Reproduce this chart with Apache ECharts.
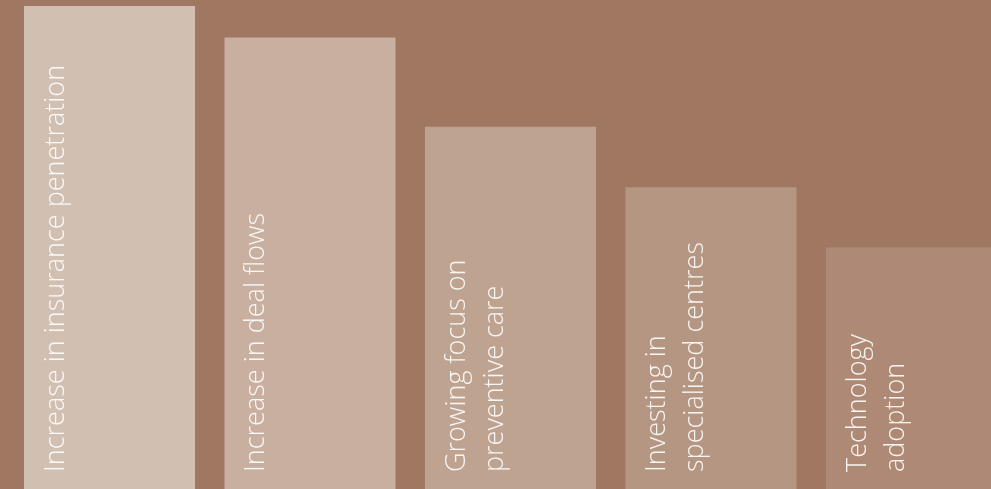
<!DOCTYPE html>
<html>
<head>
<meta charset="utf-8">
<script src="https://cdn.jsdelivr.net/npm/echarts@6/dist/echarts.min.js"></script>
<style>
html,body{margin:0;padding:0;background:#A07760;}
#chart{width:991px;height:489px;}
</style>
</head>
<body>
<div id="chart"></div>
<script>
const categories = [
  "Increase in insurance penetration",
  "Increase in deal flows",
  "Growing focus on\npreventive care",
  "Investing in\nspecialised centres",
  "Technology\nadoption"
];
const values = [100, 93.5, 75, 62.5, 50];
const barColors = ["#D1BFB2", "#C9AFA0", "#BFA391", "#B59682", "#AE8A76"];

const chart = echarts.init(document.getElementById('chart'));
chart.setOption({
  backgroundColor: '#A07760',
  animation: false,
  grid: { left: 9.25, width: 1002.5, top: 6, bottom: 0, containLabel: false, outerBoundsMode: 'none' },
  xAxis: {
    type: 'category', data: categories,
    axisLine: { show: false }, axisTick: { show: false }, axisLabel: { show: false }
  },
  yAxis: {
    type: 'value', min: 0, max: 100,
    show: false, splitLine: { show: false }
  },
  series: [{
    type: 'bar',
    barWidth: 171,
    data: values.map((v, i) => ({ value: v, itemStyle: { color: barColors[i] } })),
    label: {
      show: true,
      formatter: (p) => categories[p.dataIndex],
      position: [0, '100%'],
      rotate: 90,
      align: 'left',
      verticalAlign: 'top',
      offset: [17, 13],
      color: 'rgba(255,255,255,0.9)',
      fontFamily: 'Open Sans',
      fontWeight: 300,
      fontSize: 27,
      lineHeight: 38
    }
  }]
});
</script>
</body>
</html>
